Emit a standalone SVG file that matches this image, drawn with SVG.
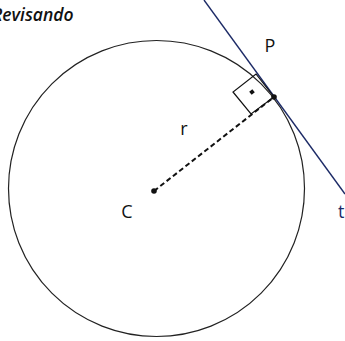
<svg xmlns="http://www.w3.org/2000/svg" width="345" height="341" viewBox="0 0 345 341">
<style>
text{font-family:"Open Sans","Liberation Sans",sans-serif;fill:#111;}
.lbl{font-size:18px;}
</style>
<rect width="345" height="341" fill="#fff"/>
<text x="-8" y="21" font-size="17.5" font-style="italic" font-weight="600">Revisando</text>
<g id="circle">
<circle cx="156.5" cy="188.5" r="148" fill="none" stroke="#222" stroke-width="1.2"/>
</g>
<g id="connectors">
<line id="tangent" x1="204" y1="0" x2="345" y2="194" stroke="#1c2a66" stroke-width="1.4"/>
<line id="radius" x1="154" y1="191" x2="274" y2="97" stroke="#111" stroke-width="2" stroke-dasharray="5,3"/>
<polygon id="right-angle" points="274,97 256,74 233,92 251,114" fill="none" stroke="#111" stroke-width="1.2"/>
<rect x="250" y="90" width="4" height="4" fill="#111" transform="rotate(-38 252 92)"/>
</g>
<g id="C">
<circle cx="154" cy="191" r="2.8" fill="#111"/>
<text class="lbl" x="127" y="218" text-anchor="middle">C</text>
</g>
<g id="P">
<circle cx="274" cy="97" r="2.8" fill="#111"/>
<text class="lbl" x="270" y="52" text-anchor="middle">P</text>
</g>
<g id="r">
<text class="lbl" x="184" y="135" text-anchor="middle">r</text>
</g>
<g id="t">
<text class="lbl" x="338" y="218" style="fill:#1c2a66">t</text>
</g>
</svg>
